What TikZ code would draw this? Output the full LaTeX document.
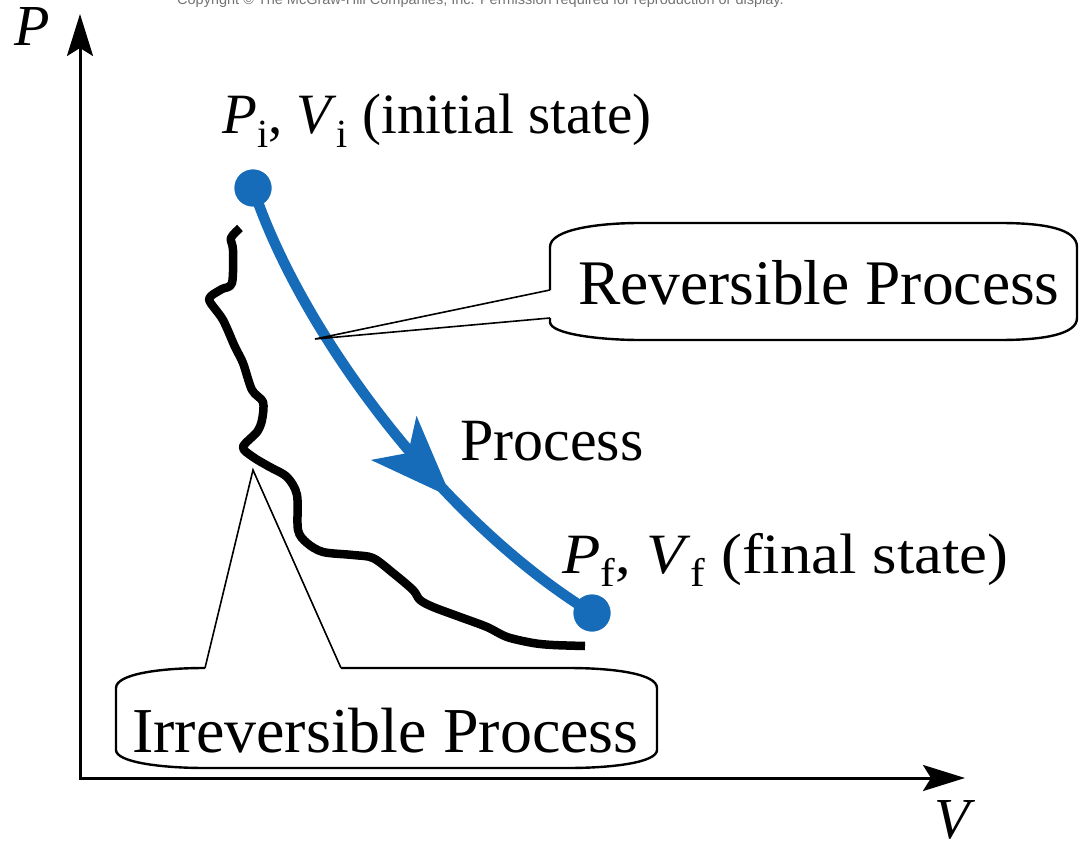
\documentclass[tikz,border=0pt]{standalone}
\usepackage{fontspec}
\setmainfont{Liberation Serif}
\newfontfamily\copyfont{Liberation Sans}
\usetikzlibrary{arrows.meta,decorations.markings}
\definecolor{procblue}{RGB}{22,108,184}
\newcommand\mysub[1]{\raisebox{-0.24em}{\fontsize{40}{44}\selectfont #1}}
\begin{document}
\begin{tikzpicture}[x=1pt,y=-1pt,
  axis/.style={line width=3pt,line cap=rect,-{Stealth[length=42pt,width=26pt,inset=8pt]}},
  dot/.style={circle,fill=procblue,inner sep=0pt,minimum size=37pt},
  lbl/.style={inner sep=0pt,anchor=base west},
  axislbl/.style={lbl,font=\fontsize{58}{60}\selectfont\itshape},
  statelbl/.style={lbl,font=\fontsize{57}{60}\selectfont},
  boxtext/.style={lbl,font=\fontsize{63.5}{66}\selectfont},
  callout/.style={line width=2.4pt,line join=round},
  pointer/.style={line width=1.6pt,line join=miter},
  wiggle/.style={line width=8.5pt,line join=round},
  revline/.style={procblue,line width=10.5pt,postaction={decorate},
    decoration={markings,mark=at position 0.67 with {\arrow{Stealth[length=82pt,width=62pt,inset=20pt]}}}}]
\useasboundingbox (0,0) rectangle (1082,853);
% copyright line (cut at top, as in the reference)
\node[lbl,font=\copyfont\fontsize{14.5}{15}\selectfont,text=black!55] (copy) at (177,5)
  {Copyright © The McGraw-Hill Companies, Inc. Permission required for reproduction or display.};
% axes
\coordinate (O) at (80,778);
\coordinate (ytip) at (80,14);
\coordinate (xtip) at (965,778);
\draw[axis] (O) -- (ytip);
\draw[axis] (O) -- (xtip);
\node[axislbl] (Plab) at (14,46) {P};
\node[axislbl] (Vlab) at (934,838) {V};
% states
\node[dot] (pi) at (253,188) {};
\node[dot] (pf) at (592,613) {};
\draw[revline] (pi.center) .. controls (300,330) and (440,520) .. (pf.center);
\node[dot] at (pi) {};
\node[dot] at (pf) {};
\node[statelbl] (ilab) at (222,134) {\textit{P}\mysub{i}, \textit{V}\mysub{i} (initial state)};
\node[statelbl] (flab) at (562,573) {\scalebox{1.1}[1]{\textit{P}\mysub{f}, \textit{V}\mysub{f} (final state)}};
\node[lbl,font=\fontsize{60}{64}\selectfont] (proc) at (460,460) {Process};
% irreversible path
\draw[wiggle] plot[smooth,tension=0.5] coordinates {
 (240,228) (231,238) (233,250) (232,283) (222,289) (211,296) (210,302) (223,320)
 (235,347) (243,363) (252,390) (263,402) (262,420) (257,432) (243,447) (253,457)
 (268,466) (287,477) (297,495) (298,530) (307,543) (323,552) (353,555) (373,558)
 (393,573) (413,590) (420,600) (433,607) (460,617) (487,627) (507,637) (533,643)
 (553,645) (585,646)};
% reversible callout
\coordinate (revpt) at (315,339);
\coordinate (ra) at (550,290);
\coordinate (rb) at (550,318);
\draw[callout] (ra) -- (550,247) .. controls (550,229) and (600,223) .. (640,223) -- (1000,223)
  .. controls (1045,223) and (1077,229) .. (1077,247) -- (1077,318)
  .. controls (1077,334) and (1045,340) .. (1000,340) -- (640,340)
  .. controls (600,340) and (550,334) .. (550,322) -- (rb);
\draw[pointer] (ra) -- (revpt) -- (rb);
\node[boxtext] (rev) at (578,305) {Reversible Process};
% irreversible callout
\coordinate (irrpt) at (253,470);
\coordinate (ia) at (205,668);
\coordinate (ib) at (341,668);
\draw[callout] (ia) .. controls (160,668) and (116,674) .. (116,688) -- (116,750)
  .. controls (116,762) and (160,768) .. (205,768) -- (568,768)
  .. controls (615,768) and (657,762) .. (657,750) -- (657,688)
  .. controls (657,674) and (615,668) .. (568,668) -- (ib);
\draw[pointer] (ia) -- (irrpt) -- (ib);
\node[boxtext,font=\fontsize{64}{66}\selectfont] (irr) at (132,752) {Irreversible Process};
\end{tikzpicture}
\end{document}
